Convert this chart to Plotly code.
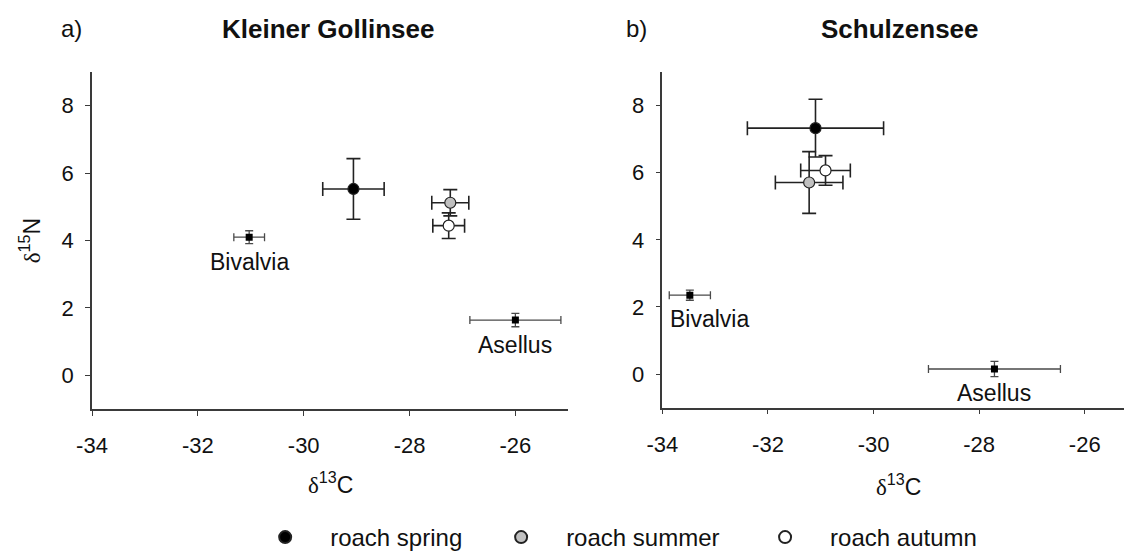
import plotly.graph_objects as go

# --- data: stable isotope signatures (mean +/- SD) ---
seasons = ["roach spring", "roach summer", "roach autumn"]
season_fill = ["#000000", "#c0c0c0", "#ffffff"]

# Kleiner Gollinsee roach
kg_roach_c = [-29.06, -27.23, -27.26]
kg_roach_n = [5.53, 5.12, 4.44]
kg_roach_c_sd = [0.58, 0.35, 0.30]
kg_roach_n_sd = [0.90, 0.39, 0.38]

# Schulzensee roach
sz_roach_c = [-31.10, -31.22, -30.91]
sz_roach_n = [7.33, 5.71, 6.07]
sz_roach_c_sd = [1.29, 0.64, 0.47]
sz_roach_n_sd = [0.86, 0.92, 0.44]

# invertebrate prey
prey = ["Bivalvia", "Asellus"]
kg_prey_c = [-31.03, -26.00]
kg_prey_n = [4.10, 1.64]
kg_prey_c_sd = [0.29, 0.86]
kg_prey_n_sd = [0.19, 0.20]

sz_prey_c = [-33.48, -27.71]
sz_prey_n = [2.35, 0.15]
sz_prey_c_sd = [0.39, 1.25]
sz_prey_n_sd = [0.15, 0.23]

x_ticks = [-34, -32, -30, -28, -26]
x_tick_labels = ["-34", "-32", "-30", "-28", "-26"]
y_ticks = [0, 2, 4, 6, 8]
y_tick_labels = ["0", "2", "4", "6", "8"]

W, H = 1124, 560
# margins frame the plotting region; titles and legend sit outside it
ML, MR, MT, MB = 91.8, 0.0, 72.3, 143.6
PW, PH = W - ML - MR, H - MT - MB
FONT = "Liberation Sans, Arial, sans-serif"
AX = "#3a3a3a"


def px_x(v):
    return (v - ML) / PW


def px_y(v):
    return (H - MB - v) / PH


# one legend box per season so the entries sit in fixed columns
legend_ids = ["legend", "legend2", "legend3"]
legend_left_px = [240, 476, 740]

fig = go.Figure()

panels = [
    ("x", "y", kg_roach_c, kg_roach_n, kg_roach_c_sd, kg_roach_n_sd,
     kg_prey_c, kg_prey_n, kg_prey_c_sd, kg_prey_n_sd),
    ("x2", "y2", sz_roach_c, sz_roach_n, sz_roach_c_sd, sz_roach_n_sd,
     sz_prey_c, sz_prey_n, sz_prey_c_sd, sz_prey_n_sd),
]

for pi, (xa, ya, rc, rn, rcs, rns, pc, pn, pcs, pns) in enumerate(panels):
    # prey: small squares with thin grey error bars
    fig.add_trace(go.Scatter(
        x=pc, y=pn, mode="markers", xaxis=xa, yaxis=ya, showlegend=False,
        marker=dict(symbol="square", size=7, color="#000000"),
        error_x=dict(type="data", array=pcs, color="#4a4a4a", thickness=1.3, width=4),
        error_y=dict(type="data", array=pns, color="#4a4a4a", thickness=1.3, width=4),
        hoverinfo="skip",
    ))
    # roach by season
    for si in range(len(seasons)):
        fig.add_trace(go.Scatter(
            x=[rc[si]], y=[rn[si]], mode="markers", xaxis=xa, yaxis=ya,
            name=seasons[si], legendgroup=seasons[si], showlegend=(pi == 0),
            legend=legend_ids[si],
            marker=dict(symbol="circle", size=11, color=season_fill[si],
                        line=dict(color="#222222", width=1.2)),
            error_x=dict(type="data", array=[rcs[si]], color="#222222",
                         thickness=1.6, width=7),
            error_y=dict(type="data", array=[rns[si]], color="#222222",
                         thickness=1.6, width=7),
        ))

axis_common = dict(
    showgrid=False, zeroline=False, showline=True, linecolor=AX, linewidth=1.5,
    ticks="outside", ticklen=5, tickwidth=1.3, tickcolor=AX, automargin=False,
    tickfont=dict(family=FONT, size=22, color="#111111"),
)

legend_style = dict(
    orientation="h", xanchor="left", y=px_y(548), yanchor="middle",
    font=dict(family=FONT, size=24, color="#111111"),
    itemwidth=80, itemsizing="constant",
    bgcolor="rgba(0,0,0,0)", borderwidth=0,
)

fig.update_layout(
    width=W, height=H,
    margin=dict(l=ML, r=MR, t=MT, b=MB, pad=0),
    paper_bgcolor="white", plot_bgcolor="white",
    font=dict(family=FONT, color="#111111"),
    xaxis=dict(domain=[0, px_x(568.2)], range=[-34, -25],
               tickvals=x_ticks, ticktext=x_tick_labels,
               anchor="y", ticklabelstandoff=11, **axis_common),
    yaxis=dict(domain=[0, 1], range=[-1, 9],
               tickvals=y_ticks, ticktext=y_tick_labels,
               anchor="x", ticklabelstandoff=7, **axis_common),
    xaxis2=dict(domain=[px_x(662.3), 1.0], range=[-34, -25.256],
                tickvals=x_ticks, ticktext=x_tick_labels,
                anchor="y2", ticklabelstandoff=11, **axis_common),
    yaxis2=dict(domain=[px_y(414.95), px_y(72.45)], range=[-1, 9],
                tickvals=y_ticks, ticktext=y_tick_labels,
                anchor="x2", ticklabelstandoff=7, **axis_common),
)
for lid, lx in zip(legend_ids, legend_left_px):
    fig.update_layout({lid: dict(x=px_x(lx), **legend_style)})

delta = '<span style="font-family:Liberation Serif, serif">δ</span>'
ann = []
# panel letters and lake names
ann.append(dict(text="a)", x=px_x(71), y=px_y(28), font=dict(size=24)))
ann.append(dict(text="b)", x=px_x(636), y=px_y(28), font=dict(size=24)))
ann.append(dict(text="<b>Kleiner Gollinsee</b>", x=px_x(328), y=px_y(28), font=dict(size=26)))
ann.append(dict(text="<b>Schulzensee</b>", x=px_x(900), y=px_y(28), font=dict(size=26)))
# axis titles
ann.append(dict(text=delta + "<sup>13</sup>C", x=px_x(330), y=px_y(492), font=dict(size=23)))
ann.append(dict(text=delta + "<sup>13</sup>C", x=px_x(898), y=px_y(494), font=dict(size=23)))
ann.append(dict(text=delta + "<sup>15</sup>N", x=px_x(30), y=px_y(245), textangle=-90,
                font=dict(size=23)))
for a in ann:
    a.update(xref="paper", yref="paper", xanchor="center", yanchor="middle",
             showarrow=False)
    a["font"].update(family=FONT, color="#111111")

# prey labels tied to their data points
label_shift = {
    ("x", "Bivalvia"): (0, -25), ("x", "Asellus"): (0, -25),
    ("x2", "Bivalvia"): (20, -24), ("x2", "Asellus"): (0, -24),
}
for xa, ya, pc, pn in [("x", "y", kg_prey_c, kg_prey_n), ("x2", "y2", sz_prey_c, sz_prey_n)]:
    for i, name in enumerate(prey):
        dx, dy = label_shift[(xa, name)]
        ann.append(dict(text=name, x=pc[i], y=pn[i], xref=xa, yref=ya,
                        xshift=dx, yshift=dy, showarrow=False,
                        xanchor="center", yanchor="middle",
                        font=dict(family=FONT, size=23, color="#111111")))

fig.update_layout(annotations=ann)

fig.write_html("out.html")
